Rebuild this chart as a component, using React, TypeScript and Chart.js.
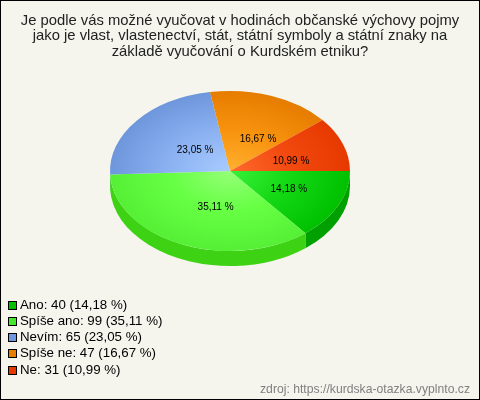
import React, { useEffect, useRef } from 'react';
import { Chart, registerables } from 'chart.js';

Chart.register(...registerables);

const titleLines = [
  'Je podle vás možné vyučovat v hodinách občanské výchovy pojmy',
  'jako je vlast, vlastenectví, stát, státní symboly a státní znaky na',
  'základě vyučování o Kurdském etniku?',
];
const sourceText = 'zdroj: https://kurdska-otazka.vyplnto.cz';
const categories = ['Ano', 'Spíše ano', 'Nevím', 'Spíše ne', 'Ne'];
const answers = [40, 99, 65, 47, 31];

// barva plátku: střed, půlka poloměru, okraj, bok, legenda
const centerColors = ['#38f038', '#96ff78', '#a8ccff', '#ffb030', '#ff6a2c'];
const midColors = ['#14d814', '#66ff44', '#8cb2f2', '#f8930e', '#f24a10'];
const edgeColors = ['#00c000', '#55f035', '#6e96dc', '#e67c00', '#e63900'];
const sideColors = ['#00a000', '#3dd314'];
const legendColors = ['#00c000', '#44e62e', '#6f97dd', '#e67c00', '#e63900'];

const FONT = '"Liberation Sans", Arial, sans-serif';
const SQUASH = 2 / 3;
const DEPTH = 15;
const PIE_AREA = { left: 110, right: 350, top: 51, bottom: 291 };

const total = answers.reduce((a, b) => a + b, 0);
const percent = (v: number) => ((v / total) * 100).toFixed(2).replace('.', ',') + ' %';

const pie3d = {
  id: 'pie3d',
  beforeDraw(chart: any) {
    const { ctx, width, height } = chart;
    ctx.save();
    ctx.fillStyle = '#f5f5ee';
    ctx.fillRect(0, 0, width, height);
    ctx.strokeStyle = '#000';
    ctx.lineWidth = 1;
    ctx.strokeRect(0.5, 0.5, width - 1, height - 1);
    ctx.restore();
  },
  afterLayout(chart: any) {
    // pevná plocha koláče, titulek a zdroj ji nemají posouvat
    chart.chartArea = {
      ...PIE_AREA,
      width: PIE_AREA.right - PIE_AREA.left,
      height: PIE_AREA.bottom - PIE_AREA.top,
    };
  },
  beforeDatasetsDraw(chart: any) {
    const { ctx } = chart;
    const arcs = chart.getDatasetMeta(0).data;
    const cx = arcs[0].x;
    const cy = arcs[0].y;
    ctx.save();
    ctx.translate(cx, cy);
    ctx.scale(1, SQUASH);
    ctx.translate(-cx, -cy);

    // bok koláče, jen přední polovina
    arcs.forEach((arc: any, i: number) => {
      const from = Math.max(arc.startAngle, 0);
      const to = Math.min(arc.endAngle, Math.PI);
      if (to <= from) return;
      ctx.beginPath();
      ctx.arc(cx, cy, arc.outerRadius, from, to);
      ctx.arc(cx, cy + DEPTH / SQUASH, arc.outerRadius, to, from, true);
      ctx.closePath();
      ctx.fillStyle = sideColors[i] ?? edgeColors[i];
      ctx.fill();
    });
  },
  afterDatasetsDraw(chart: any) {
    const { ctx } = chart;
    ctx.restore();

    const arcs = chart.getDatasetMeta(0).data;
    ctx.save();
    ctx.font = `10px ${FONT}`;
    ctx.fillStyle = '#000';
    ctx.textAlign = 'center';
    ctx.textBaseline = 'middle';
    arcs.forEach((arc: any, i: number) => {
      const mid = (arc.startAngle + arc.endAngle) / 2;
      const x = arc.x + Math.cos(mid) * arc.outerRadius * 0.465 + 8.5;
      const y = arc.y + Math.sin(mid) * arc.outerRadius * SQUASH * 0.46 + 2.5;
      ctx.fillText(percent(answers[i]), x, y);
    });

    // legenda
    ctx.font = `13.3px ${FONT}`;
    ctx.textAlign = 'left';
    categories.forEach((name, i) => {
      const y = 305 + i * 16.25;
      ctx.fillStyle = legendColors[i];
      ctx.fillRect(8, Math.round(y - 4.5), 9, 9);
      ctx.strokeStyle = '#000';
      ctx.lineWidth = 1;
      ctx.strokeRect(8.5, Math.round(y - 4.5) + 0.5, 8, 8);
      ctx.fillStyle = '#000';
      ctx.fillText(`${name}: ${answers[i]} (${percent(answers[i])})`, 20, y);
    });
    ctx.restore();
  },
};

export default function App() {
  const chartRef = useRef<HTMLCanvasElement>(null);

  useEffect(() => {
    if (!chartRef.current) return;
    const chart = new Chart(chartRef.current, {
      type: 'pie',
      data: {
        labels: categories,
        datasets: [
          {
            data: answers,
            borderWidth: 0,
            clip: false,
            backgroundColor: (c: any) => {
              const area = c.chart.chartArea;
              if (!area) return edgeColors[c.dataIndex];
              const x = (area.left + area.right) / 2;
              const y = (area.top + area.bottom) / 2;
              const g = c.chart.ctx.createRadialGradient(x, y, 0, x, y, area.width / 2);
              g.addColorStop(0, centerColors[c.dataIndex]);
              g.addColorStop(0.5, midColors[c.dataIndex]);
              g.addColorStop(1, edgeColors[c.dataIndex]);
              return g;
            },
          } as any,
        ],
      },
      options: {
        animation: false,
        responsive: false,
        devicePixelRatio: 1,
        rotation: 90,
        layout: { padding: { left: 10, right: 10 } },
        plugins: {
          legend: { display: false },
          tooltip: { enabled: false },
          title: {
            display: true,
            text: titleLines,
            color: '#222',
            font: { family: FONT, size: 14.8, weight: 'normal', lineHeight: 1.05 },
            padding: { top: 13, bottom: 0 },
          },
          subtitle: {
            display: true,
            text: sourceText,
            position: 'bottom',
            align: 'end',
            color: '#808080',
            font: { family: FONT, size: 12.2, weight: 'normal' },
            padding: { top: 0, bottom: 3 },
          },
        },
      },
      plugins: [pie3d],
    });
    return () => chart.destroy();
  }, []);

  return (
    <div style={{ position: 'absolute', left: 0, top: 0 }}>
      <canvas ref={chartRef} width={480} height={400} style={{ display: 'block' }} />
    </div>
  );
}
